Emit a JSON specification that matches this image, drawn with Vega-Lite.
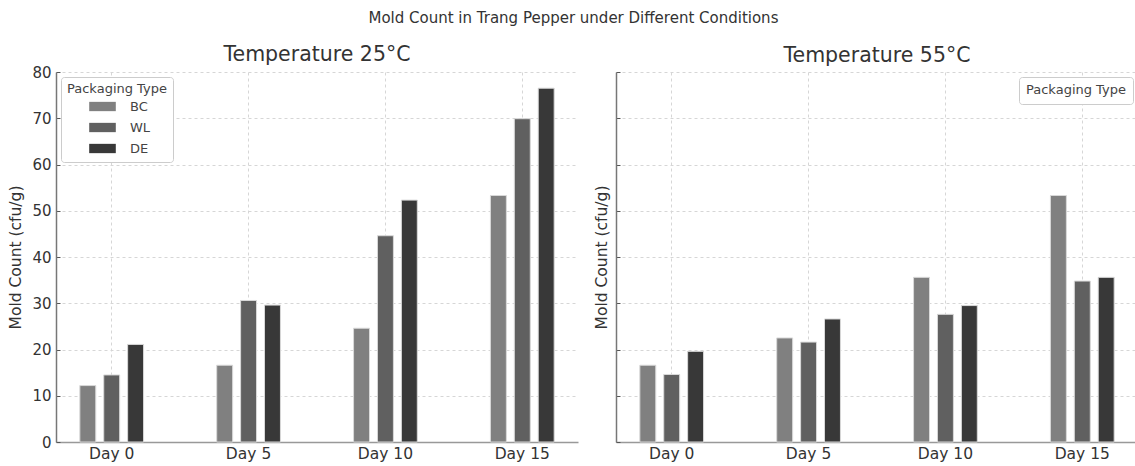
{
  "$schema": "https://vega.github.io/schema/vega-lite/v6.json",
  "background": "white",
  "padding": {"left": 8, "top": 10, "right": 0, "bottom": 0},
  "title": {"text": "Mold Count in Trang Pepper under Different Conditions", "fontSize": 15, "font": "DejaVu Sans", "fontWeight": "normal", "color": "#333333", "anchor": "middle", "offset": 19},
  "config": {
    "font": "DejaVu Sans",
    "view": {"stroke": null},
    "axis": {"labelFont": "DejaVu Sans", "titleFont": "DejaVu Sans"},
    "legend": {"labelFont": "DejaVu Sans", "titleFont": "DejaVu Sans"}
  },
  "data": {"values": [
    {"temp": "25°C", "day": "Day 0", "type": "BC", "count": 12.2},
    {"temp": "25°C", "day": "Day 0", "type": "WL", "count": 14.5},
    {"temp": "25°C", "day": "Day 0", "type": "DE", "count": 21.1},
    {"temp": "25°C", "day": "Day 5", "type": "BC", "count": 16.6},
    {"temp": "25°C", "day": "Day 5", "type": "WL", "count": 30.6},
    {"temp": "25°C", "day": "Day 5", "type": "DE", "count": 29.6},
    {"temp": "25°C", "day": "Day 10", "type": "BC", "count": 24.6},
    {"temp": "25°C", "day": "Day 10", "type": "WL", "count": 44.6},
    {"temp": "25°C", "day": "Day 10", "type": "DE", "count": 52.3},
    {"temp": "25°C", "day": "Day 15", "type": "BC", "count": 53.3},
    {"temp": "25°C", "day": "Day 15", "type": "WL", "count": 69.9},
    {"temp": "25°C", "day": "Day 15", "type": "DE", "count": 76.5},
    {"temp": "55°C", "day": "Day 0", "type": "BC", "count": 16.6},
    {"temp": "55°C", "day": "Day 0", "type": "WL", "count": 14.6},
    {"temp": "55°C", "day": "Day 0", "type": "DE", "count": 19.6},
    {"temp": "55°C", "day": "Day 5", "type": "BC", "count": 22.5},
    {"temp": "55°C", "day": "Day 5", "type": "WL", "count": 21.6},
    {"temp": "55°C", "day": "Day 5", "type": "DE", "count": 26.6},
    {"temp": "55°C", "day": "Day 10", "type": "BC", "count": 35.6},
    {"temp": "55°C", "day": "Day 10", "type": "WL", "count": 27.6},
    {"temp": "55°C", "day": "Day 10", "type": "DE", "count": 29.5},
    {"temp": "55°C", "day": "Day 15", "type": "BC", "count": 53.3},
    {"temp": "55°C", "day": "Day 15", "type": "WL", "count": 34.8},
    {"temp": "55°C", "day": "Day 15", "type": "DE", "count": 35.6}
  ]},
  "spacing": 16,
  "resolve": {"scale": {"color": "independent"}, "legend": {"color": "independent"}},
  "hconcat": [
    {
      "width": 522, "height": 370,
      "title": {"text": "Temperature 25°C", "fontSize": 20.5, "fontWeight": "normal", "color": "#333333", "offset": 0},
      "transform": [{"filter": {"field": "temp", "equal": "25°C"}}],
      "mark": {"type": "bar", "stroke": "#d9d9d9", "strokeWidth": 1},
      "encoding": {
        "x": {"field": "day", "type": "nominal", "sort": ["Day 0", "Day 5", "Day 10", "Day 15"],
          "scale": {"paddingInner": 0.476, "paddingOuter": 0.145},
          "axis": {"title": null, "labelAngle": 0, "labelFontSize": 15.5, "labelColor": "#333333", "domainColor": "#999999", "domainWidth": 1.5, "tickColor": "#555555", "tickSize": -4, "labelPadding": 8, "grid": true, "gridDash": [3, 3], "gridColor": "#d6d6d6", "bandPosition": 0.5}},
        "xOffset": {"field": "type", "type": "nominal", "sort": ["BC", "WL", "DE"], "scale": {"paddingInner": 0.333, "paddingOuter": 0.1667}},
        "y": {"field": "count", "type": "quantitative", "scale": {"domain": [0, 80]},
          "axis": {"title": "Mold Count (cfu/g)", "values": [0, 10, 20, 30, 40, 50, 60, 70, 80], "labelFontSize": 15, "labelColor": "#333333", "titleFontSize": 15.5, "titleFontWeight": "normal", "titleColor": "#333333", "titlePadding": 8, "domainColor": "#777777", "domainWidth": 1.5, "tickColor": "#555555", "tickSize": -4, "labelPadding": 9, "grid": true, "gridDash": [3, 3], "gridColor": "#d6d6d6"}},
        "color": {"field": "type", "type": "nominal", "sort": ["BC", "WL", "DE"],
          "scale": {"domain": ["BC", "WL", "DE"], "range": ["#808080", "#606060", "#383838"]},
          "legend": {"orient": "top-left", "offset": 5, "title": "Packaging Type", "titleFontSize": 13, "titleFontWeight": "normal", "titleColor": "#444444", "labelFontSize": 13, "labelColor": "#444444", "fillColor": "white", "strokeColor": "#cccccc", "padding": 6, "cornerRadius": 3, "symbolType": "M-1,-0.35H1V0.35H-1Z", "symbolSize": 708, "symbolStrokeWidth": 0, "symbolOffset": 22, "labelOffset": 14, "rowPadding": -4, "titlePadding": -3}}
      }
    },
    {
      "width": 522, "height": 370,
      "title": {"text": "Temperature 55°C", "fontSize": 20.5, "fontWeight": "normal", "color": "#333333", "offset": 5},
      "transform": [{"filter": {"field": "temp", "equal": "55°C"}}],
      "mark": {"type": "bar", "stroke": "#d9d9d9", "strokeWidth": 1},
      "encoding": {
        "x": {"field": "day", "type": "nominal", "sort": ["Day 0", "Day 5", "Day 10", "Day 15"],
          "scale": {"paddingInner": 0.476, "paddingOuter": 0.145},
          "axis": {"title": null, "labelAngle": 0, "labelFontSize": 15.5, "labelColor": "#333333", "domainColor": "#999999", "domainWidth": 1.5, "tickColor": "#555555", "tickSize": -4, "labelPadding": 8, "grid": true, "gridDash": [3, 3], "gridColor": "#d6d6d6", "bandPosition": 0.5}},
        "xOffset": {"field": "type", "type": "nominal", "sort": ["BC", "WL", "DE"], "scale": {"paddingInner": 0.333, "paddingOuter": 0.1667}},
        "y": {"field": "count", "type": "quantitative", "scale": {"domain": [0, 80]},
          "axis": {"title": "Mold Count (cfu/g)", "values": [0, 10, 20, 30, 40, 50, 60, 70, 80], "labels": false, "titleFontSize": 15.5, "titleFontWeight": "normal", "titleColor": "#333333", "titlePadding": 6, "domainColor": "#777777", "domainWidth": 1.5, "tickColor": "#555555", "tickSize": -4, "grid": true, "gridDash": [3, 3], "gridColor": "#d6d6d6"}},
        "color": {"field": "type", "type": "nominal", "sort": ["BC", "WL", "DE"],
          "scale": {"domain": ["BC", "WL", "DE"], "range": ["#808080", "#606060", "#383838"]},
          "legend": {"orient": "top-right", "offset": 5, "values": [], "title": "Packaging Type", "titleFontSize": 13, "titleFontWeight": "normal", "titleColor": "#444444", "fillColor": "white", "strokeColor": "#cccccc", "padding": 7, "titlePadding": 4, "cornerRadius": 3}}
      }
    }
  ]
}
